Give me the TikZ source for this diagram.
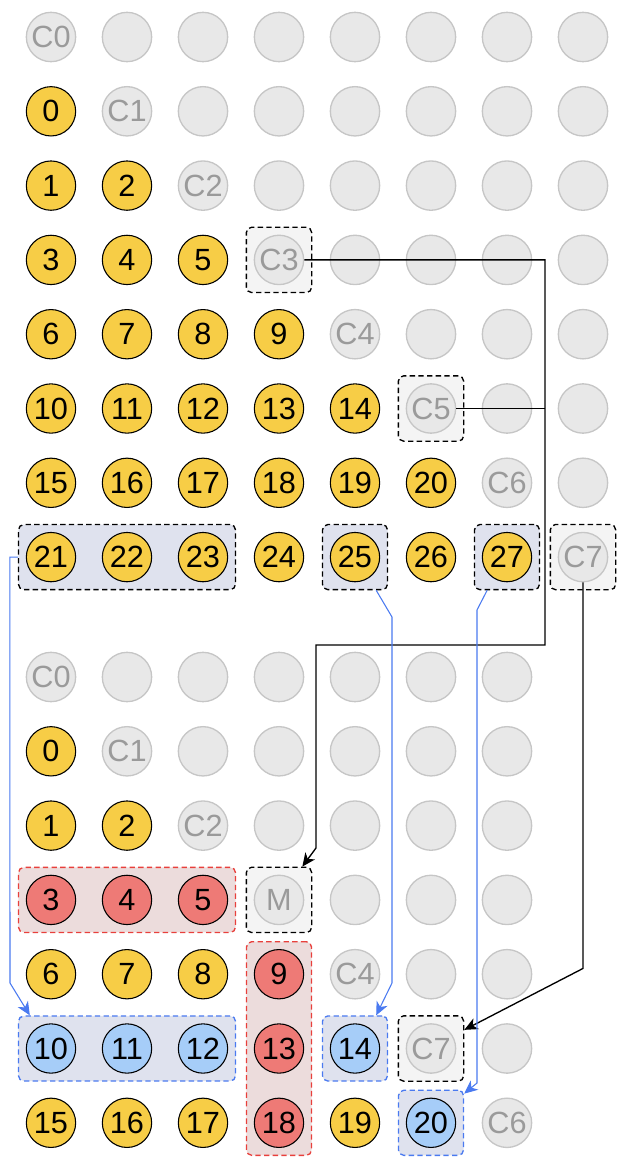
\documentclass[tikz,border=0pt]{standalone}
\usepackage{fontspec}
\setmainfont{Liberation Sans}
\usetikzlibrary{positioning,fit,arrows.meta,backgrounds}

\definecolor{cellyellow}{HTML}{F7CD46}
\definecolor{cellred}{HTML}{EE7A76}
\definecolor{cellblue}{HTML}{A6CDF8}
\definecolor{slotfill}{HTML}{E8E8E8}
\definecolor{slotdraw}{HTML}{C6C6C6}
\definecolor{slottext}{HTML}{9A9A9A}
\definecolor{boxlav}{HTML}{DFE2EE}
\definecolor{boxpink}{HTML}{ECDCDC}
\definecolor{boxpale}{HTML}{F4F4F4}
\definecolor{dashred}{HTML}{E8403C}
\definecolor{lineblue}{HTML}{4A7AF0}

\begin{document}
\begin{tikzpicture}[
        x=0.75pt, y=-0.75pt,
        cell/.style={
                circle,
                minimum size=37pt,
                inner sep=0pt,
                font=\fontsize{23}{23}\selectfont
            },
        kept/.style={cell, draw=black, fill=cellyellow, line width=0.8pt},
        merged/.style={cell, draw=black, fill=cellred, line width=0.8pt},
        moved/.style={cell, draw=black, fill=cellblue, line width=0.8pt},
        slot/.style={cell, draw=slotdraw, fill=slotfill, text=slottext, line width=1pt},
        grp/.style={
                rectangle,
                rounded corners=4pt,
                dash pattern=on 4pt off 2.5pt,
                line width=1pt,
                inner sep=5.5pt
            },
        keepbox/.style={grp, draw=black, fill=boxlav},
        slotbox/.style={grp, draw=black, fill=boxpale},
        mergebox/.style={grp, draw=dashred, fill=boxpink},
        movebox/.style={grp, draw=lineblue, fill=boxlav},
        link/.style={line width=1pt},
        bluelink/.style={draw=lineblue, line width=0.8pt},
        >={Stealth[length=10pt,width=9pt,inset=3pt]}
    ]
    \useasboundingbox (0,0) rectangle (628,1172);

    \foreach \r in {0,...,7} {
        \foreach \c in {0,...,7} {
            \pgfmathtruncatemacro{\n}{\r*(\r-1)/2+\c}
            \ifnum\c<\r
                \node[kept] (t-\r-\c) at (51+76*\c, 37+74.3*\r) {\n};
            \else\ifnum\c=\r
                \node[slot] (t-\r-\c) at (51+76*\c, 37+74.3*\r) {C\r};
            \else
                \node[slot] (t-\r-\c) at (51+76*\c, 37+74.3*\r) {};
            \fi\fi
        }
    }

    \foreach \row [count=\r from 0] in {
            {slot/C0,slot/,slot/,slot/,slot/,slot/,slot/},
            {kept/0,slot/C1,slot/,slot/,slot/,slot/,slot/},
            {kept/1,kept/2,slot/C2,slot/,slot/,slot/,slot/},
            {merged/3,merged/4,merged/5,slot/M,slot/,slot/,slot/},
            {kept/6,kept/7,kept/8,merged/9,slot/C4,slot/,slot/},
            {moved/10,moved/11,moved/12,merged/13,moved/14,slot/C7,slot/},
            {kept/15,kept/16,kept/17,merged/18,kept/19,moved/20,slot/C6}} {
        \foreach \s/\t [count=\c from 0] in \row {
            \node[\s] (b-\r-\c) at (51+76*\c, 677+74.3*\r) {\t};
        }
    }

    \begin{scope}[on background layer]
        \node[keepbox, fit=(t-7-0)(t-7-2)] (g21) {};
        \node[keepbox, fit=(t-7-4)] (g25) {};
        \node[keepbox, fit=(t-7-6)] (g27) {};
        \node[slotbox, fit=(t-7-7)] (gc7) {};
        \node[slotbox, fit=(t-3-3)] (gc3) {};
        \node[slotbox, fit=(t-5-5)] (gc5) {};
        \node[mergebox, fit=(b-3-0)(b-3-2)] (m3) {};
        \node[slotbox, fit=(b-3-3)] (gm) {};
        \node[mergebox, fit=(b-4-3)(b-6-3)] (m9) {};
        \node[movebox, fit=(b-5-0)(b-5-2)] (g10) {};
        \node[movebox, fit=(b-5-4)] (g14) {};
        \node[slotbox, fit=(b-5-5)] (gc7b) {};
        \node[movebox, fit=(b-6-5)] (g20) {};
    \end{scope}

    \coordinate (trunk) at (545,645);
    \draw[->, link] (t-3-3.east) -| (trunk) -| (316,848) -- ([xshift=-7.5pt]gm.north east);
    \draw[link] (t-5-5.east) -- (t-5-5.east -| trunk);
    \draw[->, link] (t-7-7.south) -- ++(0,386) -- ([yshift=-11pt]gc7b.north east);

    \draw[->, bluelink] (g21.west) -- ++(-8,0) -- (10,983) -- ([xshift=9pt]g10.north west);
    \draw[->, bluelink] ([xshift=-9pt]g25.south east) -- (392,617) -- (392,983) -- ([xshift=-9pt]g14.north east);
    \draw[->, bluelink] ([xshift=10pt]g27.south west) -- (477,610) -- (477,1083) -- ([yshift=-3pt]g20.north east);
\end{tikzpicture}
\end{document}
